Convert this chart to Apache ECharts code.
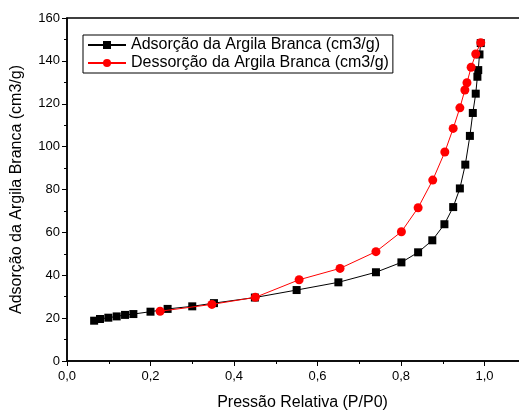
<!DOCTYPE html>
<html>
<head>
<meta charset="utf-8">
<script src="https://cdn.jsdelivr.net/npm/echarts@6/dist/echarts.min.js"></script>
<style>
  html, body { margin: 0; padding: 0; background: #fff; }
  #chart { width: 519px; height: 410px; }
</style>
</head>
<body>
<div id="chart"></div>
<script>
// adsorcao (quadrados pretos)
const adsX = [0.065, 0.079, 0.099, 0.119, 0.139, 0.159, 0.2, 0.241, 0.3, 0.352, 0.45, 0.55, 0.65, 0.74, 0.801, 0.841, 0.875, 0.904, 0.925, 0.941, 0.954, 0.965, 0.972, 0.979, 0.983, 0.985, 0.988, 0.991]
const adsY = [18.8, 19.6, 20.2, 20.8, 21.5, 21.9, 23.0, 24.3, 25.5, 27.0, 29.6, 33.1, 36.7, 41.4, 46.0, 50.7, 56.3, 63.8, 71.8, 80.5, 91.6, 105.0, 115.7, 124.7, 132.6, 135.7, 143.0, 148.3]
// dessorcao (circulos vermelhos)
const desX = [0.991, 0.979, 0.968, 0.958, 0.953, 0.941, 0.925, 0.905, 0.876, 0.841, 0.801, 0.74, 0.654, 0.556, 0.451, 0.347, 0.223]
const desY = [148.5, 143.2, 137.0, 129.8, 126.4, 118.1, 108.5, 97.5, 84.4, 71.5, 60.3, 51.0, 43.2, 37.9, 29.7, 26.4, 23.2]

const adsName = 'Adsorção da Argila Branca (cm3/g)'
const desName = 'Dessorção da Argila Branca (cm3/g)'

const pairs = (xs, ys) => xs.map((x, i) => [x, ys[i]])
const font = 'Liberation Sans, Arial, sans-serif'

const chart = echarts.init(document.getElementById('chart'))
chart.setOption({
  animation: false,
  textStyle: { fontFamily: font },
  grid: {
    left: 67,
    top: 18,
    width: 501, // o eixo x vai ate 1,2, fora da imagem
    bottom: 49,
    outerBoundsMode: 'none',
    show: true,
    borderColor: '#000',
    borderWidth: 1.5
  },
  legend: {
    left: 83,
    top: 35,
    orient: 'vertical',
    data: [adsName, desName],
    borderColor: '#000',
    borderWidth: 1,
    borderRadius: 0,
    padding: [2, 4, 2, 4],
    itemGap: 2,
    itemWidth: 38,
    itemHeight: 10,
    textStyle: { fontSize: 16, color: '#000', fontFamily: font }
  },
  xAxis: {
    type: 'value',
    min: 0,
    max: 1.2,
    interval: 0.2,
    name: 'Pressão Relativa (P/P0)',
    nameLocation: 'middle',
    nameGap: 34,
    nameTextStyle: { fontSize: 16, color: '#000', padding: [0, 30, 0, 0] },
    axisLine: { lineStyle: { color: '#000', width: 1.5 } },
    axisTick: { inside: false, length: 5, lineStyle: { color: '#000' } },
    minorTick: { show: true, splitNumber: 2, length: 3, lineStyle: { color: '#000' } },
    splitLine: { show: false },
    axisLabel: {
      fontSize: 13,
      color: '#000',
      margin: 9,
      formatter: v => v.toFixed(1).replace('.', ',')
    }
  },
  yAxis: {
    type: 'value',
    min: 0,
    max: 160,
    interval: 20,
    name: adsName,
    nameLocation: 'middle',
    nameGap: 42,
    nameTextStyle: { fontSize: 16, color: '#000' },
    axisLine: { show: true, lineStyle: { color: '#000', width: 1.5 } },
    axisTick: { show: true, inside: false, length: 5, lineStyle: { color: '#000' } },
    minorTick: { show: true, splitNumber: 2, length: 3, lineStyle: { color: '#000' } },
    splitLine: { show: false },
    axisLabel: { fontSize: 13, color: '#000', margin: 7 }
  },
  series: [
    {
      name: adsName,
      type: 'line',
      data: pairs(adsX, adsY),
      symbol: 'rect',
      symbolSize: 8,
      color: '#000',
      lineStyle: { color: '#000', width: 1 },
      itemStyle: { color: '#000' },
      z: 2
    },
    {
      name: desName,
      type: 'line',
      data: pairs(desX, desY),
      symbol: 'circle',
      symbolSize: 9,
      color: '#ff0000',
      lineStyle: { color: '#ff0000', width: 1 },
      itemStyle: { color: '#ff0000' },
      z: 3
    }
  ]
})
</script>
</body>
</html>
